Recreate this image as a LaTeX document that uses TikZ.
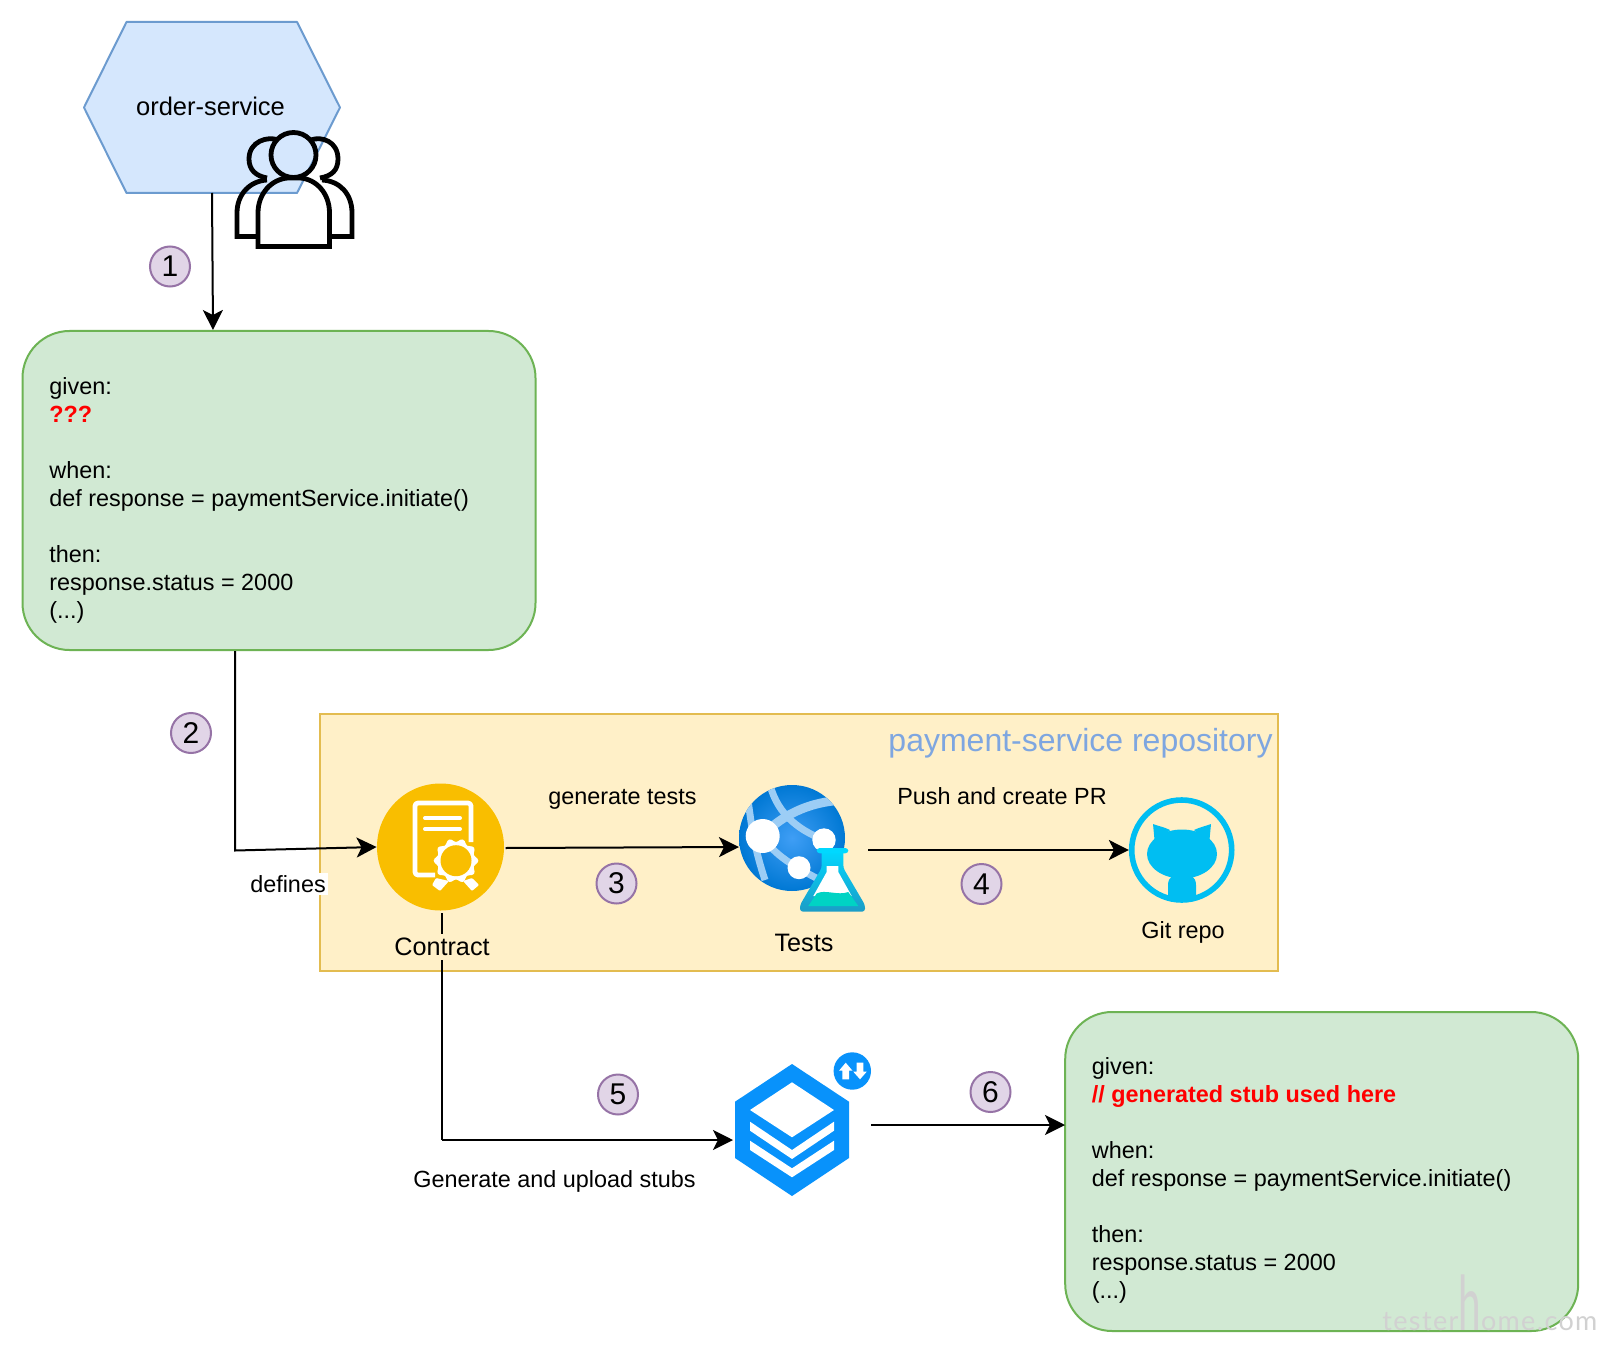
\documentclass[tikz,border=0pt]{standalone}
\usepackage{fontspec}
\usepackage{graphicx}
\setmainfont{Liberation Sans}
\newfontfamily\wmfont[LetterSpace=5]{Lato}
\usetikzlibrary{arrows.meta,calc}
\definecolor{hexfill}{HTML}{D5E7FD}
\definecolor{hexline}{HTML}{6C9BCF}
\definecolor{grfill}{HTML}{D1E9D3}
\definecolor{grline}{HTML}{6DB354}
\definecolor{ylfill}{HTML}{FFF0C8}
\definecolor{ylline}{HTML}{E3BC50}
\definecolor{ptfill}{HTML}{E1D5E7}
\definecolor{ptline}{HTML}{9673A6}
\definecolor{repoblue}{HTML}{7EA6E0}
\definecolor{contractc}{HTML}{F9BE00}
\definecolor{gitblue}{HTML}{00BEF2}
\definecolor{stackblue}{HTML}{0892FB}
\definecolor{globein}{HTML}{3F9EF5}
\definecolor{globeout}{HTML}{0078D4}
\definecolor{band}{HTML}{9CCDF5}
\definecolor{flasktop}{HTML}{00D8FF}
\definecolor{flaskbody}{HTML}{1C9CC6}
\definecolor{flaskliq}{HTML}{00D3C4}
\tikzset{
  conn/.style={draw=black,line width=1pt,-{Stealth[length=10pt,width=10pt,inset=2.5pt]}},
  connplain/.style={draw=black,line width=1pt},
  greenbox/.style={draw=grline,fill=grfill,line width=1pt,rounded corners=23.5pt,minimum width=256.5pt,minimum height=159.5pt,inner sep=0pt},
  codetext/.style={anchor=west,align=left,font=\fontsize{11.7}{14}\selectfont,inner sep=0pt},
  pointnum/.style={circle,draw=ptline,fill=ptfill,line width=1pt,minimum size=20pt,inner sep=0pt,font=\fontsize{15}{15}\selectfont},
  lab/.style={font=\fontsize{11.7}{14}\selectfont,inner sep=0pt},
  biglab/.style={font=\fontsize{12.6}{15}\selectfont,inner sep=0pt},
  person/.style={draw=black,line width=2.4pt,line join=miter}
}
\begin{document}
\begin{tikzpicture}[x=0.5pt,y=-0.5pt]
\useasboundingbox (0,0) rectangle (1600,1353);
\fill[white] (0,0) rectangle (1600,1353);
% order-service hexagon
\filldraw[fill=hexfill,draw=hexline,line width=1pt,line join=round] (84,107.5)--(126.5,22)--(297,22)--(340,107.5)--(297,193)--(126.5,193)--cycle;
\node[minimum width=128pt,minimum height=85.5pt,inner sep=0pt,font=\fontsize{12.75}{15}\selectfont] (hex) at (210.5,106.5) {order-service};
% people icon
\draw[person] (258,236.5)--(237,236.5)--(237,213) .. controls (237,194) and (250,181) .. (267,180);
\draw[person] (331,236.5)--(352,236.5)--(352,213) .. controls (352,194) and (340,181) .. (322,180);
\draw[person] (278,140) .. controls (268,136) and (249,141) .. (249,159) .. controls (249,170) and (256,176) .. (267,178);
\draw[person] (311,140) .. controls (321,136) and (338,141) .. (338,159) .. controls (338,170) and (332,176) .. (320,178);
\draw[person] (293.5,155) circle (22.5);
\draw[person] (258,246.5)--(329.5,246.5)--(329.5,213) .. controls (329.5,193) and (316,179) .. (300,178)--(288,178) .. controls (272,179) and (258,193) .. (258,213)--cycle;
% green box 1
\node[greenbox] (boxa) at (279,490.5) {};
\node[codetext] (boxatext) at (49,500) {given:\\\textcolor{red}{\textbf{???}}\\\mbox{}\\when:\\def response = paymentService.initiate()\\\mbox{}\\then:\\response.status = 2000\\(...)};
% repository box
\node[draw=ylline,fill=ylfill,line width=1pt,minimum width=479pt,minimum height=128.5pt,inner sep=0pt] (repo) at (799,842) {};
\node[anchor=east,inner sep=0pt,text=repoblue,font=\fontsize{16}{18}\selectfont] (repotitle) at (1273,743) {payment-service repository};
% contract icon
\node[circle,fill=contractc,minimum size=63.5pt,inner sep=0pt] (contract) at (440.5,847) {};
\draw[white,line width=2.4pt,line join=round,rounded corners=1.5pt] (435,875)--(415,875)--(415,803)--(471,803)--(471,842);
\draw[white,line width=2pt,line cap=round] (425,818)--(460,818) (425,829)--(460,829);
\fill[white] plot[domain=0:360,samples=61,smooth] ({456+(20.5+1.8*cos(10*\x))*cos(\x)},{860.7+(20.5+1.8*cos(10*\x))*sin(\x)});
\fill[contractc] (456,860.7) circle (15.5);
\fill[white,rounded corners=.5pt] (436,878)--(449,881)--(440,891)--(432,885)--cycle;
\fill[white,rounded corners=.5pt] (463,881)--(472,878)--(479,885)--(472,891)--cycle;
% tests icon
\begin{scope}
\path[clip] (792,838) circle (53);
\shade[inner color=globein,outer color=globeout] (739,785) rectangle (845,891);
\draw[band,line width=4.5pt] (762,836) .. controls (785,812) and (815,800) .. (850,800);
\draw[band,line width=3.5pt] (770,785) .. controls (778,815) and (800,832) .. (830,842);
\draw[band,line width=3.5pt] (762,836) .. controls (775,855) and (790,865) .. (830,885);
\draw[band,line width=3.5pt] (748,800) .. controls (752,830) and (755,850) .. (765,880);
\end{scope}
\fill[white] (762.7,836) circle (17);
\fill[white] (824,840) circle (11.7);
\fill[white] (799,867.7) circle (11.5);
\shade[top color=flasktop,bottom color=flaskbody,rounded corners=1.5pt] (821.7,850)--(821.7,868)--(800,905)--(800,911.7)--(865,911.7)--(865,905)--(843.3,868)--(843.3,850)--cycle;
\fill[flasktop,rounded corners=1.5pt] (816.7,848)--(848.3,848)--(848.3,853.3)--(816.7,853.3)--cycle;
\fill[white] (826.7,866)--(838.3,866)--(838.3,872)--(851.7,896)--(813.3,896)--(826.7,872)--cycle;
\fill[flaskliq] (816.7,893.5) .. controls (825,889) and (838,896) .. (848.3,892) -- (858.3,906)--(808.3,906)--cycle;
\node[minimum size=63pt,inner sep=0pt] (tests) at (792,850) {};
% git icon
\node[circle,draw=gitblue,line width=2.8pt,minimum size=50pt,inner sep=0pt] (git) at (1181.7,850) {};
\begin{scope}
\path[clip] (1181.7,850) circle (50);
\fill[gitblue] (1182,854) ellipse (35 and 24.5);
\fill[gitblue] (1153,824) .. controls (1158,826) and (1164,827) .. (1170,830) -- (1155,845) -- cycle;
\fill[gitblue] (1211,824) .. controls (1206,826) and (1200,827) .. (1194,830) -- (1209,845) -- cycle;
\fill[gitblue] (1168,900)--(1168,885) .. controls (1168,877) and (1174,873) .. (1182,873) .. controls (1190,873) and (1196,877) .. (1196,885)--(1196,900)--cycle;
\end{scope}
% stack icon
\fill[stackblue] (792,1064)--(849,1101.7)--(849,1158)--(792,1196)--(735,1158)--(735,1101.7)--cycle;
\fill[white] (792,1082.3)--(834,1110)--(792,1137.3)--(750,1110)--cycle;
\fill[white] (750,1121.7)--(792,1150)--(834,1121.7)--(834,1130.7)--(792,1159)--(750,1130.7)--cycle;
\fill[white] (750,1140.7)--(792,1168.3)--(834,1140.7)--(834,1150)--(792,1177.3)--(750,1150)--cycle;
\node[minimum width=57pt,minimum height=66pt,inner sep=0pt] (stack) at (792,1130) {};
\fill[stackblue] (852.3,1071) circle (18.7);
\fill[white] (845.7,1062.7)--(852.5,1070.7)--(849,1070.7)--(849,1079.3)--(842.3,1079.3)--(842.3,1070.7)--(839,1070.7)--cycle;
\fill[white] (860,1079.3)--(866.7,1071.7)--(863.3,1071.7)--(863.3,1062.7)--(856.7,1062.7)--(856.7,1071.7)--(853.3,1071.7)--cycle;
% green box 2
\node[greenbox] (boxb) at (1321.7,1171.5) {};
\node[codetext] (boxbtext) at (1091.5,1180.5) {given:\\\textcolor{red}{\textbf{// generated stub used here}}\\\mbox{}\\when:\\def response = paymentService.initiate()\\\mbox{}\\then:\\response.status = 2000\\(...)};
% coordinates of free ends
\coordinate (hexout) at (212,193);
\coordinate (boxain) at (213,330);
\coordinate (boxaout) at (235,651);
\coordinate (elbowa) at (235,850.5);
\coordinate (contractdown) at (442,913);
\coordinate (elbowb) at (442,1140);
\coordinate (testsin) at (739,847);
\coordinate (contractout) at (505.5,848);
\coordinate (testsout) at (868,850);
\coordinate (stackin) at (733,1140);
\coordinate (stackout) at (871,1125);
\coordinate (boxbin) at (1065,1125);
% connectors
\draw[conn] (hexout) -- (boxain);
\draw[conn] (boxa.south -| boxaout) -- (elbowa) -- (contract.west);
\draw[conn] (contractout) -- (testsin);
\draw[conn] (testsout) -- (git.west);
\draw[connplain] (contractdown) -- (elbowb);
\draw[conn] (elbowb) -- (stackin);
\draw[conn] (stackout) -- (boxbin);
% labels
\node[biglab,fill=ylfill,inner ysep=2pt] (contractlab) at (442,947) {Contract};
\node[biglab] (testslab) at (804,943) {Tests};
\node[lab] (gitlab) at (1183,932) {Git repo};
\node[lab] (gentests) at (622.5,799) {generate tests};
\node[lab] (pushpr) at (1002,796) {Push and create PR};
\node[lab,fill=white,inner sep=1pt] (defines) at (288,884) {defines};
\node[lab] (genstubs) at (554.5,1181) {Generate and upload stubs};
% numbered points
\node[pointnum] (pa) at (170,266.5) {1};
\node[pointnum] (pb) at (191,733) {2};
\node[pointnum] (pc) at (616.5,883.5) {3};
\node[pointnum] (pd) at (981.5,884) {4};
\node[pointnum] (pe) at (618,1094.5) {5};
\node[pointnum] (pf) at (990.5,1092) {6};
% watermark
\node[anchor=base west,inner sep=0pt,text=black!18,font=\fontsize{13.5}{14}\wmfont] (wm) at (1382,1330) {tester\scalebox{1.5}[2.8]{h}ome.com};
\end{tikzpicture}
\end{document}
